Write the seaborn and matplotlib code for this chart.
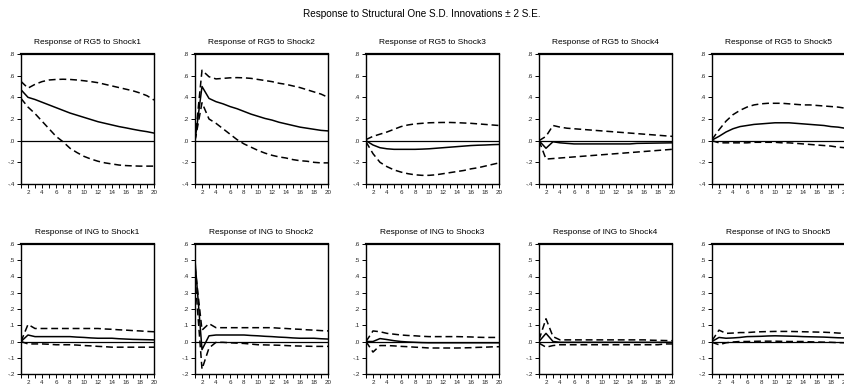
import numpy as np
import pandas as pd
import matplotlib
matplotlib.use("Agg")
import matplotlib.pyplot as plt
from matplotlib.ticker import FuncFormatter
import seaborn as sns

periods = list(range(1, 21))
shocks = ["Shock1", "Shock2", "Shock3", "Shock4", "Shock5"]
variables = ["RG5", "ING"]

# RG5 responses
rg5_s1 = [0.47, 0.40, 0.38, 0.355, 0.33, 0.305, 0.28, 0.255, 0.235, 0.215, 0.195, 0.175, 0.16, 0.145, 0.13, 0.118, 0.105, 0.093, 0.083, 0.07]
rg5_s1_up = [0.547, 0.485, 0.52, 0.545, 0.56, 0.565, 0.567, 0.565, 0.56, 0.553, 0.545, 0.535, 0.52, 0.505, 0.49, 0.475, 0.46, 0.44, 0.415, 0.375]
rg5_s1_lo = [0.39, 0.31, 0.25, 0.18, 0.11, 0.04, -0.01, -0.07, -0.11, -0.145, -0.17, -0.19, -0.205, -0.215, -0.225, -0.23, -0.233, -0.235, -0.235, -0.235]

rg5_s2 = [0.0, 0.5, 0.39, 0.36, 0.34, 0.315, 0.295, 0.27, 0.245, 0.225, 0.205, 0.19, 0.17, 0.155, 0.14, 0.125, 0.115, 0.105, 0.095, 0.09]
rg5_s2_up = [0.0, 0.65, 0.59, 0.57, 0.575, 0.58, 0.582, 0.58, 0.575, 0.565, 0.555, 0.545, 0.53, 0.52, 0.505, 0.49, 0.47, 0.45, 0.43, 0.40]
rg5_s2_lo = [0.0, 0.35, 0.2, 0.16, 0.11, 0.06, 0.01, -0.03, -0.06, -0.09, -0.115, -0.135, -0.15, -0.16, -0.175, -0.185, -0.19, -0.2, -0.205, -0.205]

rg5_s3 = [0.0, -0.04, -0.065, -0.075, -0.08, -0.08, -0.08, -0.08, -0.078, -0.075, -0.07, -0.065, -0.06, -0.055, -0.05, -0.045, -0.042, -0.04, -0.037, -0.035]
rg5_s3_up = [0.01, 0.04, 0.06, 0.08, 0.105, 0.13, 0.145, 0.155, 0.16, 0.165, 0.167, 0.168, 0.168, 0.166, 0.163, 0.16, 0.155, 0.15, 0.145, 0.14]
rg5_s3_lo = [-0.01, -0.12, -0.2, -0.24, -0.27, -0.29, -0.305, -0.315, -0.32, -0.32, -0.315, -0.305, -0.295, -0.285, -0.275, -0.26, -0.25, -0.235, -0.22, -0.205]

rg5_s4 = [0.0, -0.07, -0.01, -0.02, -0.025, -0.03, -0.03, -0.03, -0.03, -0.03, -0.03, -0.03, -0.03, -0.03, -0.025, -0.024, -0.023, -0.022, -0.021, -0.02]
rg5_s4_up = [0.0, 0.04, 0.14, 0.125, 0.115, 0.11, 0.105, 0.1, 0.095, 0.09, 0.085, 0.08, 0.075, 0.07, 0.065, 0.06, 0.055, 0.05, 0.045, 0.04]
rg5_s4_lo = [0.0, -0.17, -0.165, -0.16, -0.155, -0.15, -0.145, -0.14, -0.135, -0.13, -0.125, -0.12, -0.115, -0.11, -0.105, -0.1, -0.095, -0.09, -0.085, -0.08]

rg5_s5 = [0.005, 0.04, 0.08, 0.11, 0.13, 0.14, 0.15, 0.155, 0.16, 0.165, 0.165, 0.165, 0.16, 0.155, 0.15, 0.145, 0.14, 0.13, 0.125, 0.115]
rg5_s5_up = [0.01, 0.1, 0.18, 0.24, 0.28, 0.31, 0.33, 0.34, 0.345, 0.345, 0.345, 0.34, 0.335, 0.33, 0.33, 0.325, 0.32, 0.315, 0.31, 0.3]
rg5_s5_lo = [0.0, -0.02, -0.02, -0.02, -0.02, -0.02, -0.015, -0.015, -0.015, -0.015, -0.02, -0.02, -0.025, -0.03, -0.035, -0.04, -0.045, -0.05, -0.06, -0.065]

# ING responses
ing_s1 = [0.0, 0.04, 0.03, 0.03, 0.03, 0.03, 0.03, 0.03, 0.027, 0.025, 0.022, 0.02, 0.02, 0.02, 0.017, 0.015, 0.013, 0.012, 0.011, 0.01]
ing_s1_up = [0.0, 0.105, 0.08, 0.08, 0.08, 0.08, 0.08, 0.08, 0.08, 0.08, 0.08, 0.08, 0.077, 0.075, 0.072, 0.07, 0.067, 0.065, 0.062, 0.06]
ing_s1_lo = [0.0, -0.015, -0.015, -0.015, -0.017, -0.02, -0.02, -0.02, -0.022, -0.025, -0.027, -0.03, -0.032, -0.035, -0.035, -0.035, -0.035, -0.035, -0.035, -0.035]

ing_s2 = [0.5, -0.05, 0.035, 0.04, 0.04, 0.04, 0.04, 0.04, 0.037, 0.035, 0.032, 0.03, 0.027, 0.025, 0.022, 0.02, 0.02, 0.02, 0.017, 0.015]
ing_s2_up = [0.46, 0.07, 0.11, 0.085, 0.085, 0.085, 0.085, 0.085, 0.085, 0.085, 0.085, 0.085, 0.082, 0.08, 0.077, 0.075, 0.072, 0.07, 0.067, 0.065]
ing_s2_lo = [0.40, -0.17, -0.04, -0.005, -0.005, -0.008, -0.01, -0.012, -0.016, -0.02, -0.021, -0.022, -0.023, -0.025, -0.027, -0.028, -0.029, -0.03, -0.03, -0.03]

ing_s3 = [0.0, 0.0, 0.018, 0.012, 0.005, 0.0, -0.003, -0.005, -0.007, -0.008, -0.008, -0.008, -0.008, -0.008, -0.008, -0.008, -0.008, -0.008, -0.008, -0.008]
ing_s3_up = [0.0, 0.065, 0.06, 0.05, 0.045, 0.04, 0.037, 0.035, 0.032, 0.03, 0.03, 0.03, 0.03, 0.03, 0.029, 0.028, 0.026, 0.025, 0.025, 0.025]
ing_s3_lo = [0.0, -0.065, -0.025, -0.025, -0.027, -0.03, -0.032, -0.035, -0.037, -0.04, -0.04, -0.04, -0.04, -0.04, -0.039, -0.038, -0.036, -0.035, -0.033, -0.032]

ing_s4 = [0.0, 0.05, 0.0, -0.005, -0.005, -0.005, -0.005, -0.005, -0.005, -0.005, -0.005, -0.005, -0.005, -0.005, -0.005, -0.005, -0.005, -0.005, -0.005, -0.005]
ing_s4_up = [0.01, 0.14, 0.03, 0.01, 0.01, 0.01, 0.01, 0.01, 0.01, 0.01, 0.01, 0.01, 0.01, 0.01, 0.01, 0.01, 0.008, 0.007, 0.006, 0.005]
ing_s4_lo = [-0.01, -0.035, -0.025, -0.02, -0.02, -0.02, -0.02, -0.02, -0.02, -0.02, -0.02, -0.02, -0.02, -0.02, -0.02, -0.02, -0.02, -0.02, -0.015, -0.015]

ing_s5 = [0.0, 0.025, 0.02, 0.022, 0.025, 0.03, 0.031, 0.032, 0.034, 0.035, 0.034, 0.033, 0.032, 0.03, 0.029, 0.028, 0.027, 0.025, 0.023, 0.022]
ing_s5_up = [0.005, 0.07, 0.05, 0.052, 0.055, 0.055, 0.058, 0.06, 0.061, 0.062, 0.062, 0.062, 0.061, 0.06, 0.059, 0.058, 0.057, 0.055, 0.052, 0.05]
ing_s5_lo = [-0.005, -0.02, -0.008, -0.003, 0.0, 0.0, 0.001, 0.002, 0.002, 0.002, 0.001, 0.0, 0.0, 0.0, -0.002, -0.003, -0.004, -0.005, -0.007, -0.008]

responses = {
    ("RG5", "Shock1"): (rg5_s1, rg5_s1_up, rg5_s1_lo),
    ("RG5", "Shock2"): (rg5_s2, rg5_s2_up, rg5_s2_lo),
    ("RG5", "Shock3"): (rg5_s3, rg5_s3_up, rg5_s3_lo),
    ("RG5", "Shock4"): (rg5_s4, rg5_s4_up, rg5_s4_lo),
    ("RG5", "Shock5"): (rg5_s5, rg5_s5_up, rg5_s5_lo),
    ("ING", "Shock1"): (ing_s1, ing_s1_up, ing_s1_lo),
    ("ING", "Shock2"): (ing_s2, ing_s2_up, ing_s2_lo),
    ("ING", "Shock3"): (ing_s3, ing_s3_up, ing_s3_lo),
    ("ING", "Shock4"): (ing_s4, ing_s4_up, ing_s4_lo),
    ("ING", "Shock5"): (ing_s5, ing_s5_up, ing_s5_lo),
}

row_ylim = {"RG5": (-0.4, 0.8), "ING": (-0.2, 0.6)}
row_yticks = {"RG5": [-0.4, -0.2, 0.0, 0.2, 0.4, 0.6, 0.8],
              "ING": [-0.2, -0.1, 0.0, 0.1, 0.2, 0.3, 0.4, 0.5, 0.6]}

sns.set_theme(style="white")
plt.rcParams["font.family"] = ["Liberation Sans Narrow", "Liberation Sans", "DejaVu Sans"]

W, H = 844, 386
fig = plt.figure(figsize=(W / 100, H / 100), dpi=100)

lefts = [21, 195, 366, 539, 712]
aw = 133
row_top = {"RG5": 54, "ING": 244}
ah = 130


def yfmt(v, pos):
    s = f"{v:.1f}"
    if s.startswith("0"):
        s = s[1:]
    elif s.startswith("-0"):
        s = "-" + s[2:]
    return s


for var in variables:
    for j, sh in enumerate(shocks):
        ax = fig.add_axes([lefts[j] / W, 1 - (row_top[var] + ah) / H, aw / W, ah / H])
        mid, up, lo = responses[(var, sh)]
        df = pd.DataFrame({"period": periods, "mid": mid, "up": up, "lo": lo})
        ax.axhline(0, color="black", lw=0.9, zorder=1)
        sns.lineplot(data=df, x="period", y="mid", ax=ax, color="black", lw=1.1)
        sns.lineplot(data=df, x="period", y="up", ax=ax, color="black", lw=1.1, linestyle=(0, (4.5, 2.5)))
        sns.lineplot(data=df, x="period", y="lo", ax=ax, color="black", lw=1.1, linestyle=(0, (4.5, 2.5)))
        ax.set_xlim(1, 20)
        ax.set_ylim(*row_ylim[var])
        ax.set_xticks(periods)
        ax.set_xticklabels([str(p) if p % 2 == 0 else "" for p in periods])
        ax.set_yticks(row_yticks[var])
        ax.yaxis.set_major_formatter(FuncFormatter(yfmt))
        ax.tick_params(axis="both", direction="out", length=3, width=0.7, color="black",
                       labelsize=4.5, pad=1.5, bottom=True, left=True)
        ax.set_xlabel("")
        ax.set_ylabel("")
        for s in ax.spines.values():
            s.set_color("black")
            s.set_linewidth(1.0)
        ax.spines["top"].set_linewidth(1.6)
        ax.set_title(f"Response of {var} to {sh}", fontsize=6.0, pad=7, color="black")

fig.text(0.5, 1 - 14 / H, "Response to Structural One S.D. Innovations \u00b1 2 S.E.",
         ha="center", va="center", fontsize=7.2, color="black")

fig.savefig("out.png", dpi=100)
